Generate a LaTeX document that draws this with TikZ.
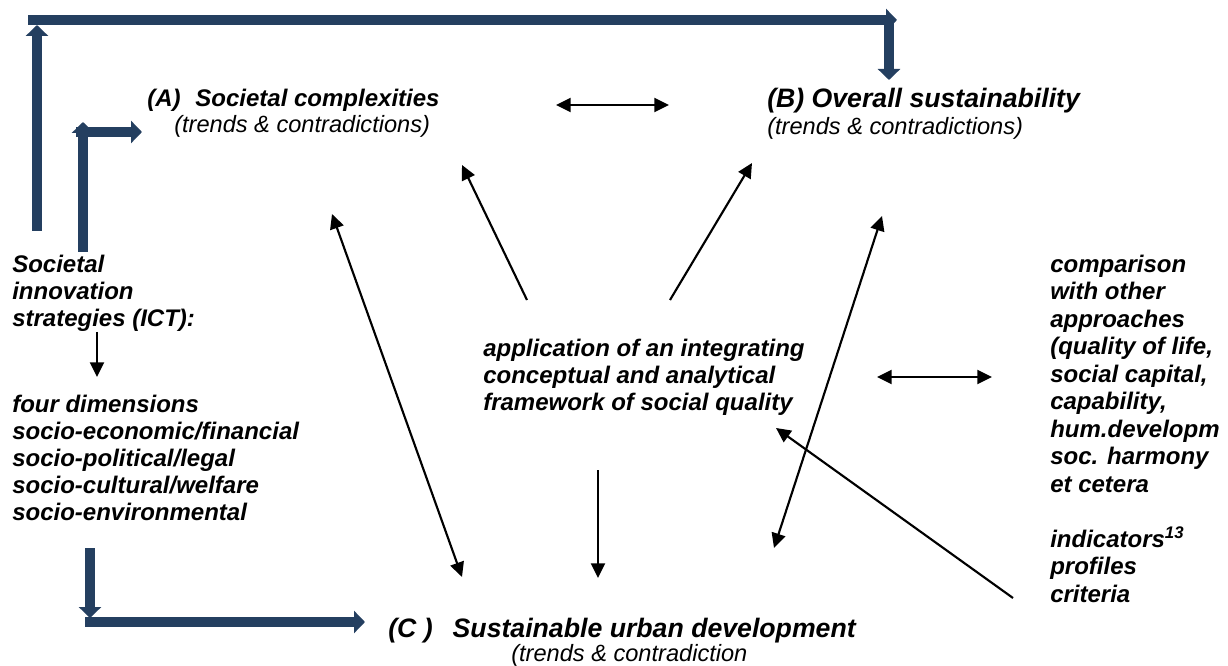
\documentclass[tikz,border=0pt]{standalone}
\usepackage{fontspec}
\setmainfont{Liberation Sans}
\usetikzlibrary{arrows.meta}
\definecolor{navy}{RGB}{36,63,96}

\begin{document}
\begin{tikzpicture}[x=0.75pt,y=-0.75pt,
  body/.style={font=\fontsize{18}{20.25}\selectfont\bfseries\itshape, inner sep=0pt, align=left, anchor=base west},
  title/.style={font=\fontsize{20}{24}\selectfont\bfseries\itshape, inner sep=0pt, anchor=base west},
  sub/.style={font=\fontsize{17.7}{20}\selectfont\itshape, inner sep=0pt, anchor=base west},
  thin/.style={line width=1.6pt, -{Triangle[length=11pt,width=10.5pt]}},
  both/.style={line width=1.6pt, {Triangle[length=11pt,width=10.5pt]}-{Triangle[length=11pt,width=10.5pt]}},
  block/.style={navy, line width=7.5pt, -{Triangle[length=8.25pt,width=16.5pt]}}
]
\useasboundingbox (0,0) rectangle (1228,666);

% ---- titles of the three fields
\node[title, font=\fontsize{18}{22}\selectfont\bfseries\itshape] (A) at (147,107) {(A)\hspace{0.62em}Societal complexities};
\node[sub] (Asub) at (174,133) {(trends \& contradictions)};
\node[title] (B) at (767,108) {(B) Overall sustainability};
\node[sub] (Bsub) at (767,135) {(trends \& contradictions)};
\node[title] (C) at (388,637) {(C )\hspace{0.75em}Sustainable urban development};
\node[sub] (Csub) at (511,661) {(trends \& contradiction};

% ---- side and centre texts (anchored at the baseline of their last line)
\node[body] (sis) at (12,327) {Societal\\innovation\\strategies (ICT):};
\node[body] (dims) at (12,520) {four dimensions\\socio-economic/financial\\socio-political/legal\\socio-cultural/welfare\\socio-environmental};
\node[body] (sq) at (483,411) {application of an integrating\\conceptual and analytical\\framework of social quality};
\node[body, font=\fontsize{18}{20.6}\selectfont\bfseries\itshape] (cmp) at (1050,602)
  {comparison\\with other\\approaches\\(quality of life,\\social capital,\\capability,\\hum.developm\\soc. harmony\\et cetera\\[20.6pt]indicators\textsuperscript{13}\\profiles\\criteria};

% ---- end points of the connectors
\coordinate (t1a) at (527,300);  \coordinate (t1b) at (462,165);
\coordinate (t2a) at (670,300);  \coordinate (t2b) at (752,163);
\coordinate (d1a) at (332,214);  \coordinate (d1b) at (462,577);
\coordinate (d2a) at (882,216);  \coordinate (d2b) at (774,548);
\coordinate (h1a) at (556,105);  \coordinate (h1b) at (669,105);
\coordinate (h2a) at (877,377);  \coordinate (h2b) at (992,377);
\coordinate (t3a) at (1013,598); \coordinate (t3b) at (776,428);
\coordinate (t4a) at (598,470);  \coordinate (t4b) at (598,578);
\coordinate (t5a) at (97,332);   \coordinate (t5b) at (97,377);

\draw[thin] (t1a) -- (t1b);
\draw[thin] (t2a) -- (t2b);
\draw[both] (d1a) -- (d1b);
\draw[both] (d2a) -- (d2b);
\draw[both] (h1a) -- (h1b);
\draw[both] (h2a) -- (h2b);
\draw[thin] (t3a) -- (t3b);
\draw[thin] (t4a) -- (t4b);
\draw[thin] (t5a) -- (t5b);

% ---- bold feedback arrows
\coordinate (o1) at (37,231);  \coordinate (o2) at (37,25);
\coordinate (o3) at (28,20);   \coordinate (o4) at (897,20);
\coordinate (o5) at (889,18);  \coordinate (o6) at (889,80);
\coordinate (i1) at (83,252);  \coordinate (i2) at (83,122);
\coordinate (i3) at (76,132);  \coordinate (i4) at (142,132);
\coordinate (b1) at (90,548);  \coordinate (b2) at (90,618);
\coordinate (b3) at (85,622);  \coordinate (b4) at (365,622);

\draw[block] (o1) -- (o2);
\draw[block] (o3) -- (o4);
\draw[block] (o5) -- (o6);
\draw[block] (i1) -- (i2);
\draw[block] (i3) -- (i4);
\draw[block] (b1) -- (b2);
\draw[block] (b3) -- (b4);
\end{tikzpicture}
\end{document}
